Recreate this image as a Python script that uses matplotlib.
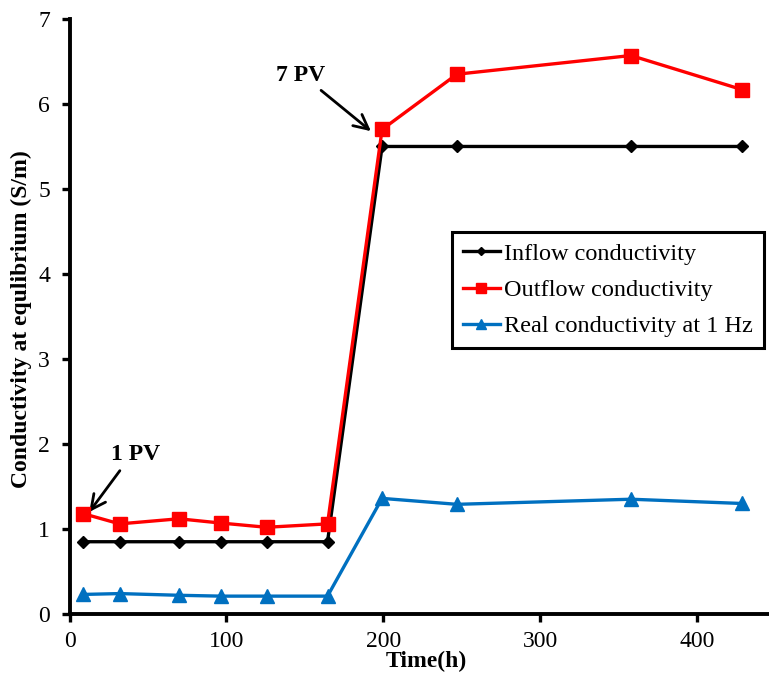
import matplotlib
matplotlib.use("Agg")
import matplotlib.pyplot as plt

# Sampling times (h)
time_h = [8.8, 32, 69.7, 96.4, 125.6, 164.5, 199.3, 247, 358, 428.6]

# Conductivity series (S/m)
inflow = [0.85, 0.85, 0.85, 0.85, 0.85, 0.85, 5.5, 5.5, 5.5, 5.5]
outflow = [1.18, 1.06, 1.12, 1.07, 1.02, 1.06, 5.70, 6.35, 6.57, 6.17]
real_1hz = [0.23, 0.24, 0.22, 0.21, 0.21, 0.21, 1.36, 1.29, 1.35, 1.30]

series_labels = ["Inflow conductivity", "Outflow conductivity", "Real conductivity at 1 Hz"]
x_ticks = [0, 100, 200, 300, 400]
y_ticks = [0, 1, 2, 3, 4, 5, 6, 7]

plt.rcParams["font.family"] = ["Liberation Serif", "DejaVu Serif"]

fig = plt.figure(figsize=(7.69, 6.75), dpi=100)
ax = fig.add_axes([0.0904, 0.0904, 0.9096, 0.8815])

ax.plot(time_h, inflow, color="black", lw=2.4, marker="D", ms=6.5, label=series_labels[0], zorder=3)
ax.plot(time_h, outflow, color="#FF0000", lw=2.4, marker="s", ms=9.5, label=series_labels[1], zorder=4)
ax.plot(time_h, real_1hz, color="#0070C0", lw=2.4, marker="^", ms=10, label=series_labels[2], zorder=3)

ax.set_xlim(0, 446)
ax.set_ylim(0, 7)
ax.set_xticks(x_ticks)
ax.set_yticks(y_ticks)
ax.tick_params(axis="both", direction="out", length=6, width=2.4, labelsize=17)
ax.tick_params(axis="y", pad=8)
ax.tick_params(axis="x", pad=6)

for side in ("top", "right"):
    ax.spines[side].set_visible(False)
for side in ("left", "bottom"):
    ax.spines[side].set_linewidth(2.8)

ax.set_xlabel("Time(h)", fontsize=17, fontweight="bold")
ax.xaxis.set_label_coords(0.51, -0.062)
ax.set_ylabel("Conductivity at equlibrium (S/m)", fontsize=17, fontweight="bold")
ax.yaxis.set_label_coords(-0.054, 0.496)

# Pore-volume annotations
arrow_style = dict(arrowstyle="->", color="black", lw=2.0, mutation_scale=26,
                   shrinkA=0, shrinkB=0)
ax.annotate("", xy=(192.2, 5.68), xytext=(160.4, 6.16), arrowprops=arrow_style)
ax.text(147.6, 6.335, "7 PV", fontsize=17, fontweight="bold", ha="center", va="center")
ax.annotate("", xy=(12.6, 1.20), xytext=(32.1, 1.686), arrowprops=arrow_style)
ax.text(41.9, 1.88, "1 PV", fontsize=17, fontweight="bold", ha="center", va="center")

leg = ax.legend(loc="upper left", bbox_to_anchor=(0.547, 0.642), borderaxespad=0,
                fontsize=17.5, frameon=True, fancybox=False, edgecolor="black",
                handlelength=1.5, handletextpad=0.2, borderpad=0.45,
                labelspacing=0.58, markerscale=0.7)
leg.get_frame().set_linewidth(2.2)
leg.get_frame().set_alpha(1)

fig.savefig("out.png", dpi=100)
